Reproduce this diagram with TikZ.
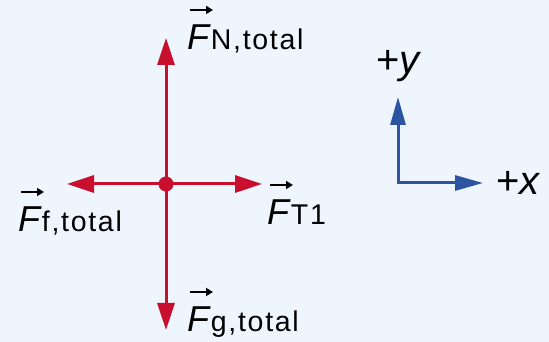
\documentclass[tikz,border=0pt]{standalone}
\usepackage{fontspec}
\setmainfont{Liberation Sans}
\usetikzlibrary{arrows.meta}
\definecolor{bgc}{RGB}{238,245,252}
\definecolor{fred}{RGB}{200,16,46}
\definecolor{axblue}{RGB}{44,84,160}
\newcommand\flabel[1]{{\fontsize{36}{40}\selectfont\textit{F}}{\fontsize{28.5}{30}\selectfont\addfontfeature{LetterSpace=6}#1}}
\tikzset{
  force/.style={draw=fred, line width=3pt, -{Triangle[length=27pt,width=17pt]}},
  axis/.style={draw=axblue, line width=3pt, line join=miter, {Triangle[length=28pt,width=15pt]}-{Triangle[length=28pt,width=15pt]}},
  lbl/.style={anchor=base west, inner sep=0pt, text=black},
  vecarr/.style={draw=black, line width=2.2pt, -{Triangle[length=7pt,width=8pt]}},
  axlbl/.style={anchor=base west, inner sep=0pt, text=black, font=\fontsize{40}{42}\selectfont}
}
\begin{document}
\begin{tikzpicture}[x=1pt,y=1pt]
\fill[bgc] (0,0) rectangle (549,342);
\useasboundingbox (0,0) rectangle (549,342);
% free body diagram
\node[circle, fill=fred, inner sep=0pt, minimum size=15pt] (O) at (166,158) {};
\coordinate (tN) at (166,304);
\coordinate (tG) at (166,12);
\coordinate (tF) at (67,158);
\coordinate (tT) at (262,158);
\draw[force] (O.center) -- (tN);
\draw[force] (O.center) -- (tG);
\draw[force] (O.center) -- (tF);
\draw[force] (O.center) -- (tT);
\node[lbl] (lN) at (187,292) {\flabel{N,total}};
\node[lbl] (lf) at (18,110) {\flabel{f,total}};
\node[lbl] (lT) at (267,117) {\flabel{T1}};
\node[lbl] (lg) at (187,10) {\flabel{g,total}};
\foreach \n in {lN,lf,lT,lg}
  \draw[vecarr] ([shift={(3,40)}]\n.base west) -- ++(23,0);
% axes
\coordinate (C) at (398,159);
\coordinate (tY) at (398,245);
\coordinate (tX) at (483,159);
\draw[axis] (tY) -- (C) -- (tX);
\node[axlbl] (ly) at (376,268) {+\textit{y}};
\node[axlbl] (lx) at (496,147) {+\textit{x}};
\end{tikzpicture}
\end{document}
